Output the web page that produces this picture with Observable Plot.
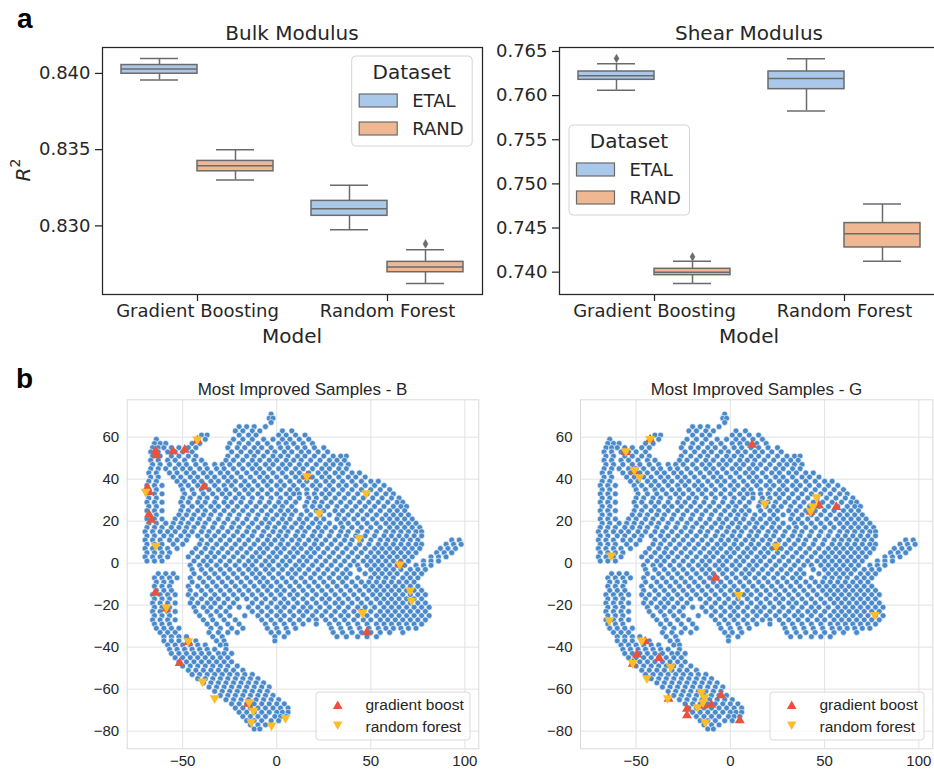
<!DOCTYPE html>
<html><head><meta charset="utf-8">
<script src="https://cdn.jsdelivr.net/npm/d3@7"></script>
<script src="https://cdn.jsdelivr.net/npm/@observablehq/plot@0.6"></script>
<style>
body{margin:0;background:#fff}
#wrap{position:relative;width:934px;height:769px;overflow:hidden;background:#fff}
#wrap svg{position:absolute}
</style></head><body><div id="wrap"></div>
<script>
// ---------- panel a: box plot summaries ----------
const models = ["Gradient Boosting", "Random Forest"];
const datasets = ["ETAL", "RAND"];
// order: GB-ETAL, GB-RAND, RF-ETAL, RF-RAND
const bulkLow  = [0.83957, 0.83301, 0.82974, 0.82622];
const bulkQ1   = [0.83998, 0.83358, 0.83066, 0.82696];
const bulkMed  = [0.84029, 0.83395, 0.83113, 0.82731];
const bulkQ3   = [0.84055, 0.83426, 0.83164, 0.82764];
const bulkHigh = [0.84098, 0.83500, 0.83266, 0.82843];
const bulkOutliers = [["Random Forest", "RAND", 0.82882]];
const bulkTicks = [0.830, 0.835, 0.840];
const shearLow  = [0.76062, 0.73871, 0.75827, 0.74125];
const shearQ1   = [0.76179, 0.73966, 0.76073, 0.74280];
const shearMed  = [0.76224, 0.74000, 0.76193, 0.74435];
const shearQ3   = [0.76273, 0.74038, 0.76273, 0.74556];
const shearHigh = [0.76360, 0.74125, 0.76417, 0.74771];
const shearOutliers = [["Gradient Boosting", "ETAL", 0.76421], ["Gradient Boosting", "RAND", 0.74174]];
const shearTicks = [0.740, 0.745, 0.750, 0.755, 0.760, 0.765];

// ---------- panel b: t-SNE embedding (shared by both panels), rows "y: x x x" ----------
const cloudRows = [
"71:-3","69:-4 -2","67:-3","65:-20 -16 -12 -6","63:-22 -18 -13 -9 3 8",
"61:-40 -37 -20 -15 -11 1 5 10 15",
"59:-64 -42 -38 -23 -18 -13 -7 -2 3 7 12 17",
"57:-65 -62 -59 -45 -41 -25 -20 -15 -10 -5 1 5 9 14 19",
"55:-66 -63 -60 -56 -52 -47 -43 -26 -21 -17 -12 -8 -3 2 6 11 15 20 25",
"53:-67 -63 -58 -54 -50 -45 -24 -19 -14 -10 -5 -1 4 8 13 17 22 27",
"51:-66 -62 -56 -52 -47 -43 -26 -21 -16 -12 -7 -2 2 6 11 15 20 25 30 34 37",
"49:-67 -63 -58 -54 -49 -44 -40 -27 -23 -18 -13 -9 -4 0 5 9 13 18 23 28 32 36",
"47:-66 -62 -57 -52 -48 -43 -38 -33 -29 -25 -20 -15 -11 -6 -2 3 7 12 16 21 26 30 34 38",
"45:-67 -63 -59 -54 -50 -46 -41 -37 -32 -28 -23 -18 -13 -9 -4 1 5 10 14 19 24 28 33 37",
"43:-68 -64 -57 -53 -48 -44 -39 -35 -30 -26 -21 -16 -11 -7 -2 3 8 12 17 22 26 31 35 40 44",
"41:-67 -63 -55 -51 -46 -42 -37 -33 -28 -24 -19 -14 -9 -5 0 5 10 14 19 24 28 33 38 42 47",
"39:-68 -64 -53 -49 -44 -40 -35 -31 -26 -22 -17 -12 -7 -3 2 7 12 16 21 26 30 35 40 45 50 54",
"37:-69 -65 -61 -51 -47 -42 -38 -33 -28 -24 -19 -15 -10 -5 0 4 9 14 19 23 28 33 37 42 47 52 57",
"35:-68 -64 -50 -45 -40 -36 -31 -27 -22 -17 -13 -8 -3 2 7 11 16 21 26 30 35 40 45 50 55 60",
"33:-69 -65 -61 -49 -44 -39 -34 -29 -25 -20 -15 -10 -5 0 5 9 12 16 20 24 28 33 38 43 48 53 58 62",
"31:-68 -64 -50 -46 -41 -37 -32 -27 -22 -18 -13 -8 -3 2 7 12 17 21 26 31 36 41 46 51 56 61 65",
"29:-69 -65 -61 -51 -47 -42 -38 -33 -28 -24 -19 -14 -9 -4 1 5 10 16 20 24 29 34 39 44 49 54 59 64 67",
"27:-68 -64 -50 -45 -40 -35 -31 -26 -21 -16 -11 -6 -1 3 8 15 19 23 27 32 37 42 47 52 57 62 66 69",
"25:-69 -65 -61 -51 -47 -42 -38 -33 -28 -23 -18 -13 -8 -3 2 6 10 16 21 25 31 35 40 45 50 55 60 64 68",
"23:-68 -64 -52 -48 -44 -39 -35 -30 -25 -20 -15 -10 -5 0 4 8 13 18 23 28 33 38 43 48 53 58 62 66 70",
"21:-69 -65 -61 -54 -50 -45 -41 -36 -31 -26 -21 -16 -11 -6 -2 3 7 12 16 21 25 32 36 41 46 51 56 60 64 68 72",
"19:-68 -64 -59 -55 -51 -47 -42 -38 -33 -28 -23 -18 -13 -8 -4 1 5 10 14 19 23 28 34 38 43 48 53 58 62 66 70 74",
"17:-69 -65 -61 -56 -52 -48 -44 -39 -34 -29 -24 -20 -15 -10 -5 -1 4 8 13 17 22 26 31 35 40 45 50 55 60 64 68 72 76",
"15:-70 -66 -62 -58 -54 -49 -45 -40 -36 -31 -26 -21 -16 -12 -7 -2 2 6 11 15 20 24 29 34 38 43 48 53 58 62 66 70 74 77",
"13:-69 -65 -60 -56 -51 -47 -42 -37 -33 -28 -23 -18 -13 -8 -4 1 5 10 14 19 23 28 33 37 42 47 52 57 61 65 69 73 77",
"11:-70 -66 -62 -57 -53 -48 -40 -35 -30 -25 -20 -15 -10 -5 -1 3 8 12 17 21 26 31 36 40 45 50 55 59 63 67 71 75 93 97",
"9:-69 -65 -61 -55 -50 -41 -37 -32 -27 -22 -17 -12 -7 -3 2 6 11 15 20 24 29 34 39 44 49 54 58 62 66 70 74 77 90 94 98",
"7:-70 -66 -62 -58 -53 -43 -38 -34 -29 -24 -19 -14 -9 -5 0 4 9 13 18 22 27 32 37 42 47 52 56 60 64 68 72 76 87 91 95",
"5:-69 -65 -61 -57 -45 -40 -35 -31 -26 -21 -16 -11 -7 -2 2 7 11 16 20 25 30 35 40 45 50 54 58 62 66 70 74 85 89 93",
"3:-70 -66 -62 -58 -47 -42 -37 -33 -28 -23 -18 -13 -9 -4 0 5 9 14 18 23 28 33 38 43 48 52 56 60 64 68 72 82 86 90",
"1:-69 -65 -61 -44 -39 -35 -30 -25 -20 -15 -11 -6 -2 3 7 12 16 21 26 31 36 41 46 50 54 58 62 66 70 78 82 86",
"-1:-46 -41 -37 -32 -27 -22 -17 -13 -8 -4 1 5 10 14 19 24 29 34 39 43 48 52 56 60 64 68 74 78 82",
"-3:-45 -40 -35 -30 -25 -20 -15 -11 -6 -2 3 8 12 17 22 27 32 37 44 50 54 58 62 66 71 75 79",
"-5:-63 -59 -55 -44 -38 -33 -28 -23 -18 -13 -9 -4 1 6 10 15 20 25 30 35 39 47 52 56 60 64 69 73 77",
"-7:-65 -61 -57 -53 -46 -41 -36 -31 -26 -21 -16 -11 -7 -2 3 8 13 18 23 28 33 37 43 50 54 58 62 67 71 75",
"-9:-64 -60 -56 -45 -39 -34 -29 -24 -19 -14 -9 -5 0 5 10 15 20 25 30 35 40 45 49 53 57 61 65 69 73",
"-11:-65 -61 -57 -47 -42 -37 -32 -27 -22 -17 -12 -7 -3 2 7 12 17 22 27 32 37 42 47 51 55 59 63 67 71 75",
"-13:-64 -60 -56 -46 -40 -35 -30 -25 -20 -15 -10 -5 0 4 9 14 19 24 29 34 39 44 49 53 57 61 65 69 73 77",
"-15:-66 -62 -58 -54 -47 -43 -38 -33 -28 -23 -18 -13 -8 -3 2 7 11 16 21 26 31 36 41 46 51 55 59 63 67 71 75 79",
"-17:-65 -61 -57 -45 -40 -35 -31 -26 -21 -16 -11 -6 -1 4 9 14 19 24 28 33 38 43 48 53 57 61 65 69 73 77",
"-19:-66 -62 -58 -54 -46 -42 -37 -33 -28 -23 -13 -8 -3 2 6 11 16 21 26 31 35 40 45 50 55 59 63 67 71 75 79",
"-21:-65 -61 -57 -44 -39 -35 -30 -25 -20 -15 -10 -5 0 4 9 14 18 23 28 33 38 43 47 52 57 61 65 69 73 77 81",
"-23:-66 -62 -58 -54 -43 -37 -32 -27 -13 -8 -3 2 7 12 16 21 26 31 36 41 45 50 55 59 63 67 71 75 79",
"-25:-65 -61 -57 -41 -35 -30 -25 -17 -10 -5 0 4 9 14 19 24 29 34 38 43 48 53 57 61 65 69 73 77 81",
"-27:-66 -62 -58 -54 -39 -34 -28 -22 -8 -3 2 7 12 17 21 26 31 36 41 46 50 55 59 63 67 71 75 79",
"-29:-65 -61 -57 -37 -32 -26 -20 -6 -1 4 9 14 21 28 33 38 43 48 53 57 61 65 69 73 77",
"-31:-64 -60 -56 -52 -35 -30 -24 -18 -5 0 5 10 29 34 39 44 49 54 58 62 66 70 74",
"-33:-62 -58 -54 -36 -31 -26 -21 -3 1 6 30 35 40 45 50 55 60 67",
"-35:-60 -56 -52 -48 -34 -29 -1 4 32 37 43 48 53",
"-37:-60 -56 -52 -47 -43 -32 -28 -1",
"-39:-58 -54 -50 -46 -42 -38 -30 -27",
"-41:-57 -53 -49 -45 -41 -37 -33 -27",
"-43:-56 -52 -48 -44 -40 -36 -31 -28 -24",
"-45:-54 -50 -46 -42 -38 -34 -30 -26",
"-47:-52 -48 -44 -40 -36 -32 -28 -24",
"-49:-50 -46 -42 -38 -34 -30 -26 -21",
"-51:-47 -43 -39 -35 -31 -27 -23 -18",
"-53:-45 -41 -37 -33 -29 -25 -21 -17 -13",
"-55:-42 -38 -34 -30 -26 -22 -18 -14 -10",
"-57:-39 -35 -31 -27 -23 -19 -15 -11 -7",
"-59:-36 -32 -28 -24 -20 -16 -12 -8 -4",
"-61:-33 -29 -25 -21 -17 -13 -9 -5",
"-63:-30 -26 -22 -18 -14 -10 -6 -2",
"-65:-27 -23 -19 -15 -11 -7 -3 1",
"-67:-24 -20 -16 -12 -8 -4 0 4",
"-69:-22 -18 -14 -10 -6 -2 2 6",
"-71:-20 -16 -12 -8 -4 0 3 6",
"-73:-18 -14 -10 -6 -1 2 5",
"-75:-16 -12 -8 -3 1",
"-77:-14 -10 -6",
"-79:-12 -9"
];
const gbB = [[-64.4,53.3],[-64,51.3],[-55.1,53.2],[-48.9,54],[-42.2,58.4],[-38.7,36.5],[-68.8,35.9],[-67.9,33.8],[-67.9,23.2],[-66.7,20.6],[16,41.3],[65.4,-0.6],[-64.5,-14.1],[-58.7,-21.7],[-47,-37.6],[-51.6,-47.6],[-15.1,-67],[47.9,-32.9]];
const rfB = [[-42.2,58.9],[-69.7,34.1],[-64.4,8.4],[16,41.4],[47.5,33.3],[22.5,23.8],[43.8,12.1],[65.4,-0.6],[70.9,-13],[71.6,-17.8],[45.6,-23.7],[-58.7,-21],[-47,-37.1],[-39.5,-56.3],[-33,-64.3],[-14.7,-66.2],[-12.4,-70.2],[-13.5,-75.7],[-2.8,-77.3],[4.6,-73.7]];
const gbG = [[-55.5,52.9],[-42.6,58.9],[-50.9,43.7],[11.5,56.3],[47,27.5],[56.2,26.7],[42.6,24.4],[24.3,7.6],[-8,-7],[-45.2,-37.3],[-49.6,-43.5],[-51.8,-47.9],[-37.8,-45.2],[-32.8,-64.6],[-23,-69.4],[-23,-72.5],[-14.2,-67.8],[-10.1,-67.5],[-5,-63],[5,-74.9]];
const rfG = [[-55.5,53.3],[-42.6,59.2],[-50.9,44.4],[-48.2,41],[18.3,28.3],[45.7,31.4],[43.8,27.1],[42.6,24.8],[24.3,8.1],[-63.3,3.7],[4.4,-15.1],[76.6,-24.6],[-64.2,-27.3],[-47,-36.8],[-51.8,-47.5],[-31.6,-49.5],[-44.3,-54.8],[-33.2,-64.3],[-15.4,-61.4],[-13.8,-63.8],[-14.5,-66.2],[-17.4,-68.6],[-13.3,-75.7]];
const scatterXTicks = [-50, 0, 50, 100];
const scatterYTicks = [-80, -60, -40, -20, 0, 20, 40, 60];

// ---------- styling ----------
const boxColors = ["#aac8ea", "#efb892"];
const lineColor = "#6b6b6b";
const ink = "#262626";
const cloudColor = "#4a8acb";
const gbColor = "#e9533d";
const rfColor = "#fbbe28";

const wrap = document.getElementById("wrap");

function place(svg, left, top) {
  svg.style.left = left + "px";
  svg.style.top = top + "px";
  wrap.appendChild(svg);
}

function boxPanel(low, q1, med, q3, high, outliers, ticks, yDomain, mLeft, mRight) {
  const rows = [];
  models.forEach((m, i) => datasets.forEach((d, j) => {
    const k = i * 2 + j;
    rows.push({model: m, dataset: d, lo: low[k], q1: q1[k], med: med[k], q3: q3[k], hi: high[k]});
  }));
  const frameW = 380, band = frameW / models.length;
  const marks = [];
  datasets.forEach((d, j) => {
    const sub = rows.filter(r => r.dataset === d);
    const out = outliers.filter(o => o[1] === d).map(o => ({model: o[0], value: o[2]}));
    const boxL = j === 0 ? 0.1 * band : 0.5 * band;
    const boxR = band - boxL - 0.4 * band;
    const dx = boxL + 0.2 * band - band / 2;
    const capL = boxL + 0.1 * band, capR = band - capL - 0.2 * band;
    const ls = {stroke: lineColor, strokeWidth: 1.5};
    marks.push(
      Plot.ruleX(sub, {x: "model", y1: "lo", y2: "q1", dx, ...ls}),
      Plot.ruleX(sub, {x: "model", y1: "q3", y2: "hi", dx, ...ls}),
      Plot.tickY(sub, {x: "model", y: "lo", insetLeft: capL, insetRight: capR, ...ls}),
      Plot.tickY(sub, {x: "model", y: "hi", insetLeft: capL, insetRight: capR, ...ls}),
      Plot.barY(sub, {x: "model", y1: "q1", y2: "q3", insetLeft: boxL, insetRight: boxR, fill: boxColors[j], ...ls}),
      Plot.tickY(sub, {x: "model", y: "med", insetLeft: boxL, insetRight: boxR, ...ls}),
      Plot.dot(out, {x: "model", y: "value", dx, symbol: "diamond", r: 2.6, fill: lineColor, stroke: lineColor, strokeWidth: 0.5})
    );
  });
  return Plot.plot({
    width: mLeft + frameW + mRight, height: 47 + 247 + 40,
    marginLeft: mLeft, marginRight: mRight, marginTop: 47, marginBottom: 40,
    style: {fontFamily: "'DejaVu Sans', sans-serif", fontSize: "18px", color: ink, background: "transparent", overflow: "visible"},
    x: {type: "band", domain: models, padding: 0},
    y: {domain: yDomain},
    marks: [
      ...marks,
      Plot.axisY({ticks, tickFormat: d3.format(".3f"), tickSize: 7, tickPadding: 5, fontSize: 18, label: null, strokeWidth: 1.25}),
      Plot.axisX({tickSize: 7, tickPadding: 3, fontSize: 18, label: null, strokeWidth: 1.25}),
      Plot.frame({stroke: ink, strokeWidth: 1.25})
    ]
  });
}

place(boxPanel(bulkLow, bulkQ1, bulkMed, bulkQ3, bulkHigh, bulkOutliers, bulkTicks, [0.8255, 0.8417], 102, 8), 0, 0);
place(boxPanel(shearLow, shearQ1, shearMed, shearQ3, shearHigh, shearOutliers, shearTicks, [0.73747, 0.76545], 79, 10), 480, 0);

// parse cloud
const cloud = [];
cloudRows.forEach(s => {
  const [yy, xs] = s.split(":");
  xs.trim().split(/\s+/).forEach(x => cloud.push({x: +x, y: +yy}));
});
const toPts = a => a.map(([x, y]) => ({x, y}));

function scatterPanel(gb, rf, mLeft, frameW, mRight) {
  return Plot.plot({
    width: mLeft + frameW + mRight, height: 379,
    marginLeft: mLeft, marginRight: mRight, marginTop: 9.3, marginBottom: 20.7,
    style: {fontFamily: "'Liberation Sans', Arial, sans-serif", fontSize: "15px", color: ink, background: "transparent", overflow: "visible"},
    x: {domain: [-79.5, 107.4]},
    y: {domain: [-88.4, 77.8]},
    marks: [
      Plot.gridX({ticks: scatterXTicks, stroke: "#e2e2e2", strokeOpacity: 1, strokeWidth: 1}),
      Plot.gridY({ticks: scatterYTicks, stroke: "#e2e2e2", strokeOpacity: 1, strokeWidth: 1}),
      Plot.frame({stroke: "#d9d9d9", strokeWidth: 1}),
      Plot.axisX({ticks: scatterXTicks, tickFormat: d3.format("d"), tickSize: 0, tickPadding: 7, fontSize: 15, label: null}),
      Plot.axisY({ticks: scatterYTicks, tickFormat: d3.format("d"), tickSize: 0, tickPadding: 8, fontSize: 15, label: null}),
      Plot.dot(cloud, {x: "x", y: "y", r: 2.95, fill: cloudColor, stroke: "white", strokeWidth: 0.6}),
      Plot.dot(toPts(gb), {x: "x", y: "y", symbol: "triangle", r: 3.7, fill: gbColor}),
      Plot.dot(toPts(rf), {x: "x", y: "y", symbol: "triangle", rotate: 180, r: 3.7, fill: rfColor})
    ]
  });
}
place(scatterPanel(gbB, rfB, 126.7, 351.6, 9.7), 0, 390);
place(scatterPanel(gbG, rfG, 100, 352.3, 1.7), 480, 390);

// ---------- overlay: titles, labels, legends ----------
const up = (cx, cy) => `${cx},${cy - 4.2} ${cx - 4.8},${cy + 4.2} ${cx + 4.8},${cy + 4.2}`;
const dn = (cx, cy) => `${cx},${cy + 4.2} ${cx - 4.8},${cy - 4.2} ${cx + 4.8},${cy - 4.2}`;
function boxLegend(x, y) {
  return `<rect x="${x}" y="${y}" width="120.5" height="90" rx="4" fill="white" fill-opacity="0.8" stroke="#d4d4d4"/>
  <text x="${x + 60}" y="${y + 23}" text-anchor="middle" font-size="20">Dataset</text>
  <rect x="${x + 7.5}" y="${y + 38}" width="38" height="13" fill="${boxColors[0]}" stroke="${lineColor}" stroke-width="1.2"/>
  <rect x="${x + 7.5}" y="${y + 66}" width="38" height="13" fill="${boxColors[1]}" stroke="${lineColor}" stroke-width="1.2"/>
  <text x="${x + 60.5}" y="${y + 51}" font-size="18">${datasets[0]}</text>
  <text x="${x + 60.5}" y="${y + 79}" font-size="18">${datasets[1]}</text>`;
}
function scatterLegend(x, y) {
  return `<rect x="${x}" y="${y}" width="154" height="48" rx="3" fill="white" fill-opacity="0.8" stroke="#d9d9d9"/>
  <polygon points="${up(x + 21.7, y + 12.8)}" fill="${gbColor}"/>
  <polygon points="${dn(x + 21.7, y + 33.7)}" fill="${rfColor}"/>
  <text x="${x + 49.5}" y="${y + 17.5}" font-size="15.5">gradient boost</text>
  <text x="${x + 49.5}" y="${y + 39.5}" font-size="15.5">random forest</text>`;
}
const ov = document.createElementNS("http://www.w3.org/2000/svg", "svg");
ov.setAttribute("width", 934); ov.setAttribute("height", 769);
ov.style.left = "0px"; ov.style.top = "0px"; ov.style.pointerEvents = "none";
ov.innerHTML = `
<g font-family="'Liberation Sans', Arial, sans-serif" font-weight="bold" font-size="28" fill="#000">
  <text x="17" y="28">a</text><text x="16" y="388">b</text>
</g>
<g font-family="'DejaVu Sans', sans-serif" fill="${ink}">
  <text x="292" y="40" text-anchor="middle" font-size="20">Bulk Modulus</text>
  <text x="749" y="40" text-anchor="middle" font-size="20">Shear Modulus</text>
  <text x="292" y="343" text-anchor="middle" font-size="20">Model</text>
  <text x="749" y="343" text-anchor="middle" font-size="20">Model</text>
  <text transform="translate(30,170) rotate(-90)" text-anchor="middle" font-size="20"><tspan font-style="italic">R</tspan><tspan font-size="14" dy="-10">2</tspan></text>
  ${boxLegend(351.7, 56)}
  ${boxLegend(569, 125)}
</g>
<g font-family="'Liberation Sans', Arial, sans-serif" fill="${ink}">
  <text x="302.5" y="395" text-anchor="middle" font-size="17">Most Improved Samples - B</text>
  <text x="756.5" y="395" text-anchor="middle" font-size="17">Most Improved Samples - G</text>
  ${scatterLegend(316, 692)}
  ${scatterLegend(770, 692)}
</g>`;
wrap.appendChild(ov);
</script>
</body></html>
